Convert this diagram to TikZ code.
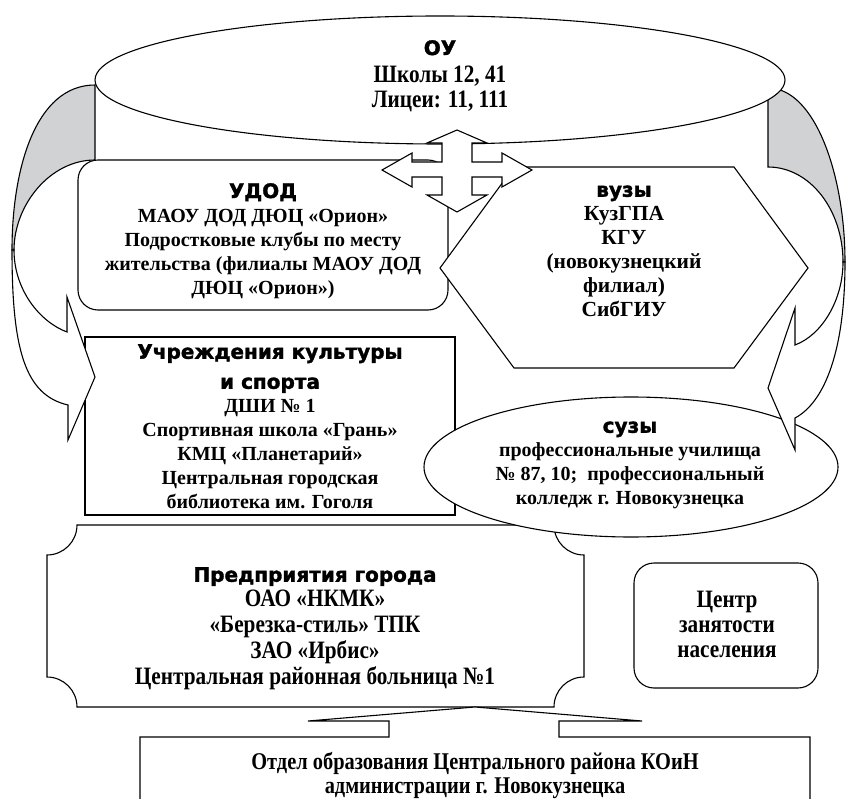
\documentclass[tikz,border=0pt]{standalone}
\usepackage{fontspec}
\setmainfont{Liberation Serif}
\newfontfamily\headfont[FakeBold=1.6]{DejaVu Sans}
\newfontfamily\narrowfont[FakeStretch=0.85]{Liberation Serif}
\definecolor{backgray}{RGB}{209,210,212}
\newcommand\hd[1]{{\headfont\bfseries\fontsize{20}{24}\selectfont\vphantom{Н}#1}}
\newcommand\nr[1]{{\narrowfont\bfseries\fontsize{25}{24}\selectfont #1}}
\tikzset{
  outline/.style={draw, line width=1.1pt, fill=white},
  backband/.style={outline, fill=backgray},
  boxtext/.style={align=center, inner sep=0pt, anchor=north, font=\bfseries\fontsize{20}{24}\selectfont},
}

\begin{document}
\begin{tikzpicture}[x=1pt,y=-1pt]
\useasboundingbox (0,0) rectangle (846,799);
\clip (0,0) rectangle (846,799);

\draw[outline] (85,337) rectangle (455,515);
\draw[outline] (77,525) -- (554,525) arc[start angle=180,end angle=90,radius=30]
  -- (584,677) arc[start angle=270,end angle=180,radius=30]
  -- (77,707) arc[start angle=0,end angle=-90,radius=30]
  -- (47,555) arc[start angle=90,end angle=0,radius=30] -- cycle;
\draw[outline, rounded corners=20pt] (634,563) rectangle (818,688);
\draw[outline, rounded corners=20pt] (78,160) rectangle (448,310);
\draw[outline] (440,268) -- (514,167) -- (734,167) -- (808,268) -- (734,368) -- (514,368) -- cycle;
\draw[outline] (631,467) ellipse[x radius=207, y radius=70];
\draw[outline] (140,820) -- (140,737) -- (389,737) -- (389,721) -- (308,721) -- (475,707)
  -- (642,721) -- (559,721) -- (559,737) -- (810,737) -- (810,820);

\draw[backband] (95,85) .. controls (35,85) and (12,170) .. (12,250) -- (14,250)
  .. controls (14,205) and (50,160) .. (95,160) -- cycle;
\draw[outline] (12,250) .. controls (12,350) and (25,395) .. (68,405) -- (68,440) -- (95,377)
  -- (67,297) -- (67,332) .. controls (40,322) and (14,290) .. (14,250) -- cycle;
\draw[backband] (768,88) .. controls (815,88) and (845,175) .. (845,262) -- (843,262)
  .. controls (843,210) and (810,167) .. (768,167) -- cycle;
\draw[outline] (845,262) .. controls (845,350) and (825,402) .. (795,418) -- (795,450) -- (768,388)
  -- (795,308) -- (795,345) .. controls (822,335) and (843,300) .. (843,262) -- cycle;

\draw[outline] (440,80) ellipse[x radius=345, y radius=64];
\draw[outline] (457,130) -- (487,143) -- (472,143) -- (472,162) -- (502,162) -- (502,153) -- (532,170)
  -- (502,187) -- (502,177) -- (472,177) -- (472,195) -- (487,195) -- (457,212) -- (427,195)
  -- (442,195) -- (442,177) -- (412,177) -- (412,187) -- (382,170) -- (412,153) -- (412,162)
  -- (442,162) -- (442,143) -- (427,143) -- cycle;

\node[boxtext] (ou) at (440,40) {\hd{ОУ}\\[3pt] \nr{Школы 12, 41}\\[1pt] \nr{Лицеи: 11, 111}};
\node[boxtext] (udod) at (263,183) {\hd{УДОД}\\ МАОУ ДОД ДЮЦ «Орион»\\ Подростковые клубы по месту\\
  жительства (филиалы МАОУ ДОД\\ ДЮЦ «Орион»)};
\node[boxtext, font=\bfseries\fontsize{21.5}{24}\selectfont] (vuz) at (624,182) {\hd{вузы}\\ КузГПА\\ КГУ\\
  (новокузнецкий\\ филиал)\\ СибГИУ};
\node[boxtext] (culture) at (270,344) {\hd{Учреждения культуры}\\[6pt] \hd{и спорта}\\ ДШИ № 1\\
  Спортивная школа «Грань»\\ КМЦ «Планетарий»\\ Центральная городская\\ библиотека им. Гоголя};
\node[boxtext] (suz) at (630,418) {\hd{сузы}\\ профессиональные училища\\ № 87, 10;~ профессиональный\\
  колледж г. Новокузнецка};
\node[boxtext] (firms) at (315,567) {\hd{Предприятия города}\\[1pt] \nr{ОАО «НКМК»}\\[2pt] \nr{«Березка-стиль» ТПК}\\[2pt]
  \nr{ЗАО «Ирбис»}\\[2pt] \nr{Центральная районная больница №1}};
\node[boxtext] (jobs) at (727,591) {\nr{Центр}\\[1pt] \nr{занятости}\\[1pt] \nr{населения}};
\node[boxtext, font=\narrowfont\bfseries\fontsize{24}{24}\selectfont] (dept) at (475,752)
  {Отдел образования Центрального района КОиН\\ администрации г. Новокузнецка};
\end{tikzpicture}
\end{document}
